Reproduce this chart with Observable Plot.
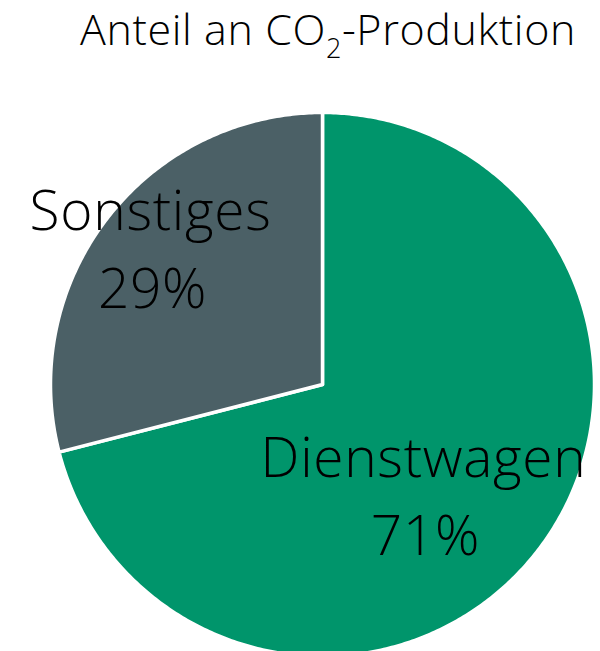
<!DOCTYPE html>
<html>
<head>
<meta charset="utf-8">
<script src="https://cdn.jsdelivr.net/npm/d3@7"></script>
<script src="https://cdn.jsdelivr.net/npm/@observablehq/plot@0.6"></script>
<style>
  html, body { margin: 0; padding: 0; background: #fff; }
  #wrap { position: relative; width: 600px; height: 651px; overflow: hidden; }
  #title { position: absolute; left: 0; width: 656px; top: 0px; text-align: center; white-space: nowrap; line-height: 1.362;
    font-family: "Open Sans", sans-serif; font-weight: 300; font-size: 43px; color: #000; letter-spacing: 0.6px; }
  #title sub { font-size: 27px; vertical-align: -13px; line-height: 0; }
  #chart { position: absolute; left: 0; top: 0; }
</style>
</head>
<body>
<div id="wrap">
  <div id="chart"></div>
  <div id="title">Anteil an CO<sub>2</sub>-Produktion</div>
</div>
<script>
const categories = ["Dienstwagen", "Sonstiges"];
const shares = [71, 29];
const colors = ["#00956b", "#4b6066"];
const percentLabels = ["71%", "29%"];

// pie geometry (clockwise from 12 o'clock), unit circle coordinates
const total = d3.sum(shares);
const slices = [];
let acc = 0;
categories.forEach((c, i) => {
  const a0 = acc / total * 2 * Math.PI;
  acc += shares[i];
  const a1 = acc / total * 2 * Math.PI;
  slices.push({ name: c, a0, a1, i });
});
const outline = [];
for (const s of slices) {
  outline.push({ name: s.name, x: 0, y: 0 });
  const n = Math.max(2, Math.ceil((s.a1 - s.a0) / 0.01));
  for (let k = 0; k <= n; k++) {
    const a = s.a0 + (s.a1 - s.a0) * k / n;
    outline.push({ name: s.name, x: Math.sin(a), y: Math.cos(a) });
  }
  outline.push({ name: s.name, x: 0, y: 0 });
}
// label placement along each slice's bisector (layout), plus a horizontal nudge in px
const labelR = { "Dienstwagen": 0.684, "Sonstiges": 0.80 };
const labelNudge = { "Dienstwagen": -46, "Sonstiges": 0 };
const labels = slices.map(s => {
  const m = (s.a0 + s.a1) / 2;
  const r = labelR[s.name];
  return { name: s.name, pct: percentLabels[s.i], nudge: labelNudge[s.name], x: r * Math.sin(m), y: r * Math.cos(m) };
});

const W = 600, H = 651, cx = 322, cy = 384, R = 272;
const font = { fontSize: 55, fill: "black", fontFamily: "Open Sans, sans-serif", fontWeight: 300 };
const chart = Plot.plot({
  width: W, height: H,
  margin: 0,
  x: { domain: [-cx / R, (W - cx) / R], range: [0, W], axis: null },
  y: { domain: [-(H - cy) / R, cy / R], range: [H, 0], axis: null },
  color: { domain: categories, range: colors },
  style: { background: "transparent" },
  marks: [
    Plot.line(outline, { x: "x", y: "y", z: "name", fill: "name", stroke: "white", strokeWidth: 3.5, strokeLinejoin: "round", curve: "linear" }),
    ...labels.map(l => Plot.text([l], { x: "x", y: "y", text: "name", dx: l.nudge, dy: -39, ...font })),
    ...labels.map(l => Plot.text([l], { x: "x", y: "y", text: "pct", dx: l.nudge + 2, dy: 39, ...font }))
  ]
});
chart.querySelectorAll("text").forEach(t => t.style.letterSpacing = "0.7px");
document.getElementById("chart").appendChild(chart);
</script>
</body>
</html>
